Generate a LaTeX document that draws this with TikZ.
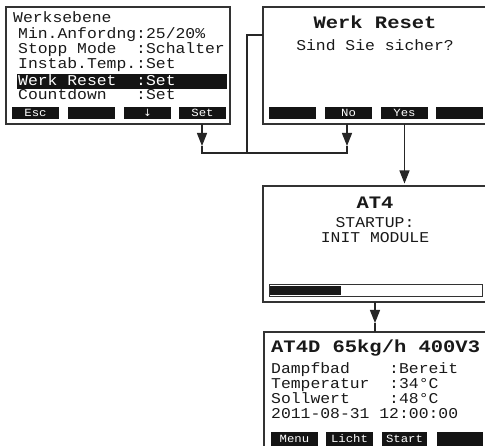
\documentclass[tikz,border=0pt]{standalone}
\usepackage{fontspec}
\newfontfamily\lcd[FakeStretch=1.093]{Liberation Mono}
\newfontfamily\lcdt[FakeStretch=1.17]{Liberation Mono}
\newfontfamily\lcds[FakeStretch=1.12]{Liberation Mono}
\newfontfamily\symf{DejaVu Sans}
\usetikzlibrary{arrows.meta}
\begin{document}
\begin{tikzpicture}[x=1pt,y=-1pt,
 screen/.style={draw=black!80, line width=1.3pt, fill=white, inner sep=0pt, outer sep=0pt},
 txt/.style={anchor=base west, inner sep=0pt, font=\lcd\fontsize{15}{15}\selectfont, text=black!90},
 ctxt/.style={anchor=base, inner sep=0pt, font=\lcd\fontsize{15}{15}\selectfont, text=black!90},
 ttl/.style={anchor=base, inner sep=0pt, font=\lcdt\bfseries\fontsize{17.5}{17.5}\selectfont, text=black!90},
 btn/.style={fill=black!92, inner sep=0pt, outer sep=0pt, minimum width=47pt, minimum height=12pt, text=white, text height=7.2pt, text depth=0pt, font=\lcds\fontsize{11}{11}\selectfont},
 conn/.style={draw=black!85, line width=1.2pt},
 tipa/.style={-{Triangle[length=13pt,width=10pt]}}
]
\useasboundingbox (0,0) rectangle (485,446);
\clip (0,0) rectangle (485,446);
\fill[white] (0,0) rectangle (485,446);

% ---- screen 1
\node[screen, minimum width=224pt, minimum height=117pt] (s1) at (118,65.5) {};
\node[txt] (l10) at (13,23) {Werksebene};
\node[txt] (l11) at (18,38.5) {Min.Anfordng:25/20\%};
\node[txt] (l12) at (18,53.5) {Stopp Mode\ \ :Schalter};
\node[txt] (l13) at (18,69) {Instab.Temp.:Set};
\node[fill=black!92, inner sep=0pt, minimum width=210pt, minimum height=15pt] (hl) at (122,81.5) {};
\node[txt, text=white] (l14) at (18,86) {Werk Reset\ \ :Set};
\node[txt] (l15) at (18,100) {Countdown\ \ \ :Set};
\node[btn] (b11) at (35.5,113) {Esc};
\node[btn] (b12) at (91.5,113) {};
\node[btn, font=\symf\fontsize{10}{10}\selectfont] (b13) at (147.5,113) {↓};
\node[btn] (b14) at (202.5,113) {Set};

% ---- screen 2
\node[screen, minimum width=224pt, minimum height=117pt] (s2) at (375,65.5) {};
\node[ttl] (t2) at (375,29) {Werk Reset};
\node[ctxt] (q2) at (375,50.5) {Sind Sie sicher?};
\node[btn] (b21) at (292.5,113) {};
\node[btn] (b22) at (348.5,113) {No};
\node[btn] (b23) at (404.5,113) {Yes};
\node[btn] (b24) at (459.5,113) {};

% ---- screen 3
\node[screen, minimum width=224pt, minimum height=116pt] (s3) at (375,244) {};
\node[ttl] (t3) at (375,209) {AT4};
\node[ctxt] (l31) at (375,228) {STARTUP:};
\node[ctxt] (l32) at (375,243) {INIT MODULE};
\node[draw=black!80, line width=0.9pt, fill=white, inner sep=0pt, minimum width=213pt, minimum height=12.5pt] (bar) at (375.5,290.5) {};
\node[fill=black!90, inner sep=0pt, anchor=west, minimum width=71pt, minimum height=9.5pt] (barfill) at ([xshift=1.6pt]bar.west) {};

% ---- screen 4
\node[screen, minimum width=224pt, minimum height=120pt] (s4) at (376,392) {};
\node[ttl, anchor=base west] (t4) at (271,353) {AT4D 65kg/h 400V3};
\node[txt] (l41) at (271,374) {Dampfbad\ \ \ \ :Bereit};
\node[txt] (l42) at (271,389) {Temperatur\ \ :34°C};
\node[txt] (l43) at (271,404) {Sollwert\ \ \ \ :48°C};
\node[txt] (l44) at (271,419) {2011-08-31 12:00:00};
\node[btn, minimum height=14pt] (b41) at (294.5,439) {Menu};
\node[btn, minimum height=14pt] (b42) at (349.5,439) {Licht};
\node[btn, minimum height=14pt, minimum width=45pt] (b43) at (404.5,439) {Start};
\node[btn, minimum height=14pt, minimum width=46pt] (b44) at (460,439) {};

% ---- connectors
\coordinate (tp1) at (202,146);
\coordinate (tp2) at (347,146);
\coordinate (j1) at (202,153);
\coordinate (j2) at (247,153);
\coordinate (j3) at (347,153);
\coordinate (k) at (247,35);
\coordinate (tp4) at (375,323);

\draw[conn,tipa] (s1.south -| tp1) -- (tp1);
\draw[conn,tipa] (s2.south -| tp2) -- (tp2);
\draw[conn] (tp1) -- (j1) -- (j3) -- (tp2);
\draw[conn] (j2) -- (k) -- (k -| s2.west);
\draw[conn,tipa,shorten >=2.5pt] (s2.south -| b23) -- (s3.north -| b23);
\draw[conn,tipa] (s3.south -| tp4) -- (tp4);
\draw[conn] (tp4) -- (s4.north -| tp4);
\end{tikzpicture}
\end{document}
